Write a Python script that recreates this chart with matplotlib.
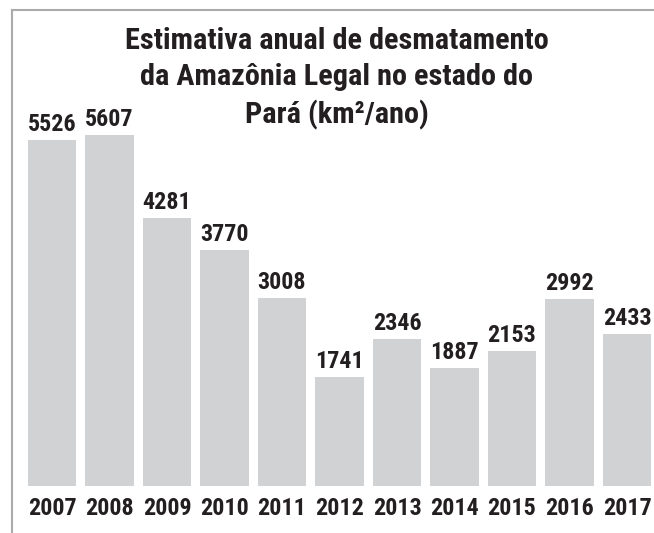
import matplotlib
matplotlib.use("Agg")
import matplotlib.pyplot as plt
from matplotlib.lines import Line2D

# dados
anos = ["2007", "2008", "2009", "2010", "2011", "2012", "2013", "2014", "2015", "2016", "2017"]
valores = [5526, 5607, 4281, 3770, 3008, 1741, 2346, 1887, 2153, 2992, 2433]
titulo = "Estimativa anual de desmatamento\nda Amazônia Legal no estado do\nPará (km²/ano)"

plt.rcParams['font.family'] = ['Roboto Condensed', 'Liberation Sans', 'DejaVu Sans']

W, H = 654, 533
fig = plt.figure(figsize=(W / 100, H / 100), dpi=100)

# eixo posicionado em pixels
bottom_px, top_px = 486, 135
left_px = 52 - 28.75
ax = fig.add_axes([left_px / W, (H - bottom_px) / H, 632.5 / W, (bottom_px - top_px) / H])
ax.set_xlim(-0.5, 10.5)
ax.set_ylim(0, 5607)

cor_texto = '#231f20'
x = range(len(anos))
ax.bar(x, valores, width=0.835, color='#d1d2d4', clip_on=False)
for i, v in zip(x, valores):
    ax.text(i, v + 60, str(v), ha='center', va='bottom', fontsize=17.3,
            fontweight='bold', color=cor_texto, clip_on=False)

ax.set_xticks(list(x))
ax.set_xticklabels(anos, fontsize=17.3, fontweight='bold', color=cor_texto)
ax.tick_params(axis='x', length=0, pad=8)
ax.set_yticks([])
for s in ax.spines.values():
    s.set_visible(False)
ax.patch.set_visible(False)

fig.text(337 / W, 1 - 27 / H, titulo, ha='center', va='top', fontsize=21.8,
         fontweight='bold', color=cor_texto, linespacing=1.38)

# moldura (esquerda e topo)
fig.add_artist(Line2D([12 / W, 12 / W], [0, 1 - 10 / H], color='#ababab', lw=1.5, transform=fig.transFigure))
fig.add_artist(Line2D([12 / W, 1], [1 - 10 / H, 1 - 10 / H], color='#ababab', lw=1.5, transform=fig.transFigure))

plt.savefig('out.png', dpi=100)
